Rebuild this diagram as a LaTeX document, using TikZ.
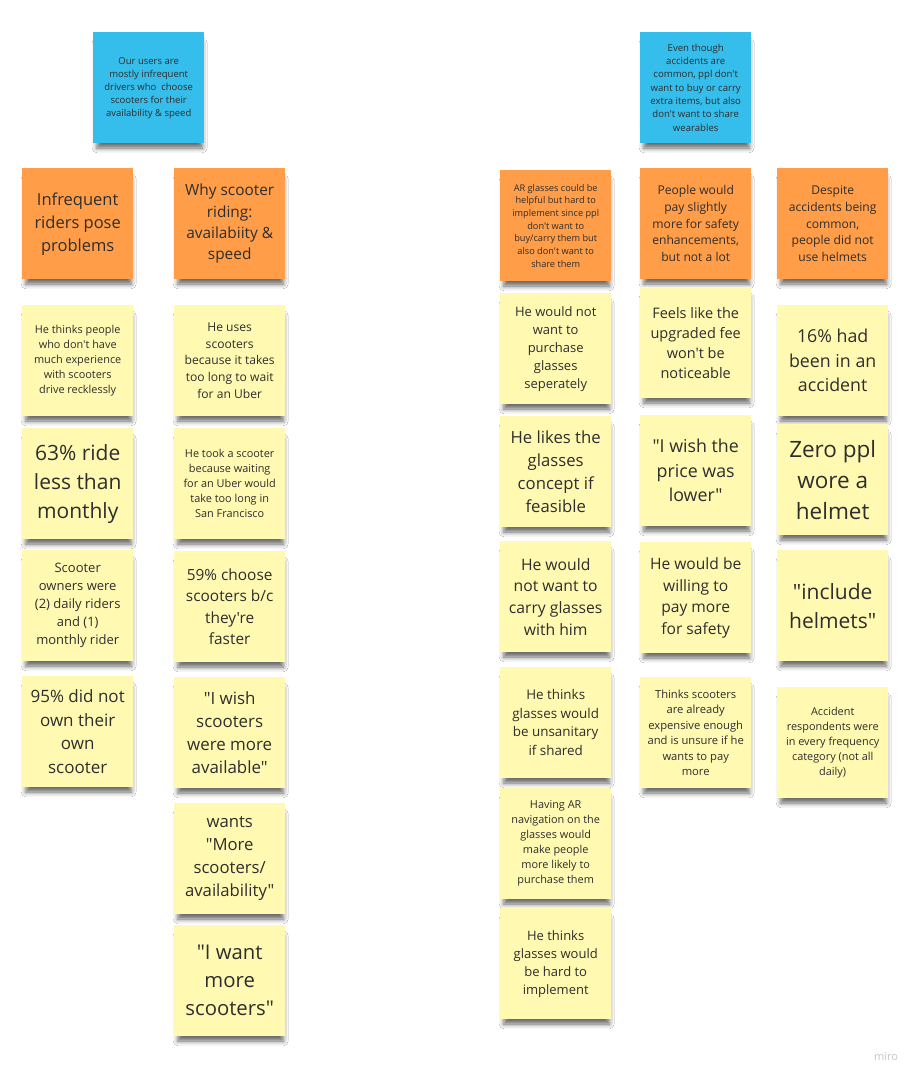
\documentclass[tikz,border=0pt]{standalone}
\usepackage{fontspec}
\setmainfont{Open Sans}[Ligatures=TeXOff]
\usetikzlibrary{shadows.blur}
\definecolor{noteblue}{HTML}{35BDEB}
\definecolor{noteorange}{HTML}{FF9D48}
\definecolor{noteyellow}{HTML}{FFF9B1}
\definecolor{notetext}{HTML}{2E2E2E}
\tikzset{
  note/.style={minimum width=111pt,minimum height=111pt,inner sep=0pt,align=center,
    anchor=north west,text=notetext,
    blur shadow={shadow xshift=1pt,shadow yshift=-8pt,shadow scale=0.95,
      shadow blur radius=5pt,shadow opacity=60}}
}
% \sticky{name}{x}{y}{colour}{font size}{line spacing}{text}
\newcommand{\sticky}[7]{\node[note,fill=#4,font={\fontsize{#5}{#6}\selectfont}] (#1) at (#2,#3) {#7};}

\begin{document}
\begin{tikzpicture}[x=1pt,y=-1pt]
\useasboundingbox[fill=white] (0,0) rectangle (922,1083);
% left group
\sticky{blueL}{93}{32}{noteblue}{9.5}{13}{Our users are\\mostly infrequent\\drivers who\ \ choose\\scooters for their\\availability \& speed}
\sticky{oInfreq}{22}{168}{noteorange}{16.5}{23}{Infrequent\\riders pose\\problems}
\sticky{oWhy}{174}{168}{noteorange}{15.4}{21.3}{Why scooter\\riding:\\availabiity \&\\speed}
\sticky{yThinks}{22}{305}{noteyellow}{10.9}{15}{He thinks people\\who don't have\\much experience\\with scooters\\drive recklessly}
\sticky{y63}{22}{428}{noteyellow}{21}{29}{63\% ride\\less than\\monthly}
\sticky{yOwners}{22}{550}{noteyellow}{13}{18}{Scooter\\owners were\\(2) daily riders\\and (1)\\monthly rider}
\sticky{y95}{22}{676}{noteyellow}{17}{23.5}{95\% did not\\own their\\own\\scooter}
\sticky{yUses}{174}{305}{noteyellow}{12.1}{16.7}{He uses\\scooters\\because it takes\\too long to wait\\for an Uber}
\sticky{yTook}{174}{428}{noteyellow}{10.9}{15}{He took a scooter\\because waiting\\for an Uber would\\take too long in\\San Francisco}
\sticky{y59}{174}{551}{noteyellow}{15.4}{21.3}{59\% choose\\scooters b/c\\they're\\faster}
\sticky{yWish}{174}{677}{noteyellow}{16.9}{23.3}{"I wish\\scooters\\were more\\available"}
\sticky{yWants}{174}{803}{noteyellow}{16.7}{23}{wants\\"More\\scooters/\\availability"}
\sticky{yWant}{174}{925}{noteyellow}{20.3}{28}{"I want\\more\\scooters"}
% right group
\sticky{blueR}{640}{32}{noteblue}{9.6}{13.3}{Even though\\accidents are\\common, ppl don't\\want to buy or carry\\extra items, but also\\don't want to share\\wearables}
\sticky{oAR}{500}{170}{noteorange}{9.2}{12.7}{AR glasses could be\\helpful but hard to\\implement since ppl\\don't want to\\buy/carry them but\\also don't want to\\share them}
\sticky{oPay}{640}{168}{noteorange}{12.1}{16.7}{People would\\pay slightly\\more for safety\\enhancements,\\but not a lot}
\sticky{oDespite}{777}{168}{noteorange}{12.1}{16.7}{Despite\\accidents being\\common,\\people did not\\use helmets}
\sticky{yPurch}{500}{293}{noteyellow}{13}{18}{He would not\\want to\\purchase\\glasses\\seperately}
\sticky{yLikes}{500}{416}{noteyellow}{16.7}{23}{He likes the\\glasses\\concept if\\feasible}
\sticky{yCarry}{500}{541}{noteyellow}{15.7}{21.7}{He would\\not want to\\carry glasses\\with him}
\sticky{yUnsan}{500}{667}{noteyellow}{13.4}{18.5}{He thinks\\glasses would\\be unsanitary\\if shared}
\sticky{yNav}{500}{788}{noteyellow}{10.9}{15}{Having AR\\navigation on the\\glasses would\\make people\\more likely to\\purchase them}
\sticky{yHard}{500}{908}{noteyellow}{13}{18}{He thinks\\glasses would\\be hard to\\implement}
\sticky{yFee}{640}{287}{noteyellow}{14.5}{20}{Feels like the\\upgraded fee\\won't be\\noticeable}
\sticky{yPrice}{640}{415}{noteyellow}{17.8}{24.5}{"I wish the\\price was\\lower"}
\sticky{yWilling}{640}{542}{noteyellow}{15.6}{21.5}{He would be\\willing to\\pay more\\for safety}
\sticky{yExpens}{640}{677}{noteyellow}{11.2}{15.4}{Thinks scooters\\are already\\expensive enough\\and is unsure if he\\wants to pay\\more}
\sticky{y16}{777}{305}{noteyellow}{17.8}{24.5}{16\% had\\been in an\\accident}
\sticky{yZero}{777}{424}{noteyellow}{22.5}{31}{Zero ppl\\wore a\\helmet}
\sticky{yInclude}{777}{550}{noteyellow}{21}{29}{"include\\helmets"}
\sticky{yAccid}{777}{687}{noteyellow}{10.9}{15}{Accident\\respondents were\\in every frequency\\category (not all\\daily)}
% watermark
\node[text=black!22,font={\fontsize{11}{13}\selectfont}] (miro) at (886,1057) {miro};
\end{tikzpicture}
\end{document}
